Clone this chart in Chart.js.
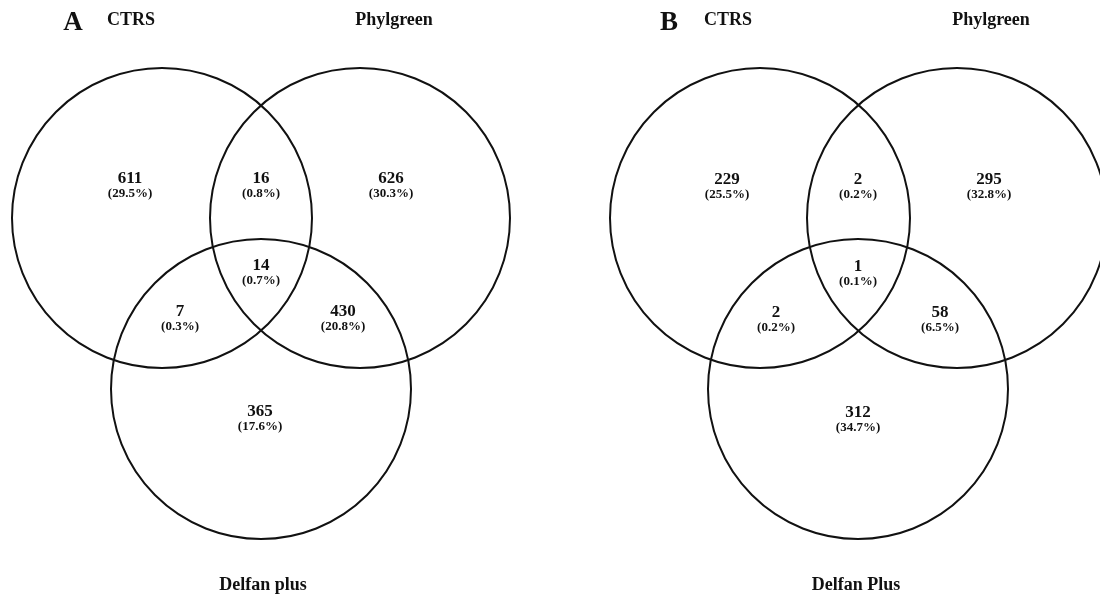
<!DOCTYPE html>
<html>
<head>
<meta charset="utf-8">
<script src="https://cdn.jsdelivr.net/npm/chart.js@4/dist/chart.umd.min.js"></script>
<style>
  body { margin: 0; background: #fff; }
  #wrap { width: 1100px; height: 597px; position: relative; }
</style>
</head>
<body>
<div id="wrap"><canvas id="venn"></canvas></div>
<script>
// Venn data: regions = [only 1, only 2, only 3, 1&2, 1&3, 2&3, all]
const panelLetters = ['A', 'B'];
const setNamesA = ['CTRS', 'Phylgreen', 'Delfan plus'];
const setNamesB = ['CTRS', 'Phylgreen', 'Delfan Plus'];
const countsA = [611, 626, 365, 16, 7, 430, 14];
const percentsA = ['29.5%', '30.3%', '17.6%', '0.8%', '0.3%', '20.8%', '0.7%'];
const countsB = [229, 295, 312, 2, 2, 58, 1];
const percentsB = ['25.5%', '32.8%', '34.7%', '0.2%', '0.2%', '6.5%', '0.1%'];

// layout (in chart units, 1 unit = 1px)
const circlesA = [{ x: 162, y: 218 }, { x: 360, y: 218 }, { x: 261, y: 389 }];
const circlesB = [{ x: 760, y: 218 }, { x: 957, y: 218 }, { x: 858, y: 389 }];
const circleR = 150;
const regionPosA = [[130, 179], [391, 179], [260, 412], [261, 179], [180, 312], [343, 312], [261, 266]];
const regionPosB = [[727, 180], [989, 180], [858, 413], [858, 180], [776, 313], [940, 313], [858, 267]];
const namePosA = [[131, 20], [394, 20], [263, 585]];
const namePosB = [[728, 20], [991, 20], [856, 585]];
const letterPos = [[73, 23], [669, 23]];

const serif = '"Liberation Serif", "Times New Roman", serif';

const radiusPx = (ctx) => {
    const s = ctx.chart.scales.x;
    return s.getPixelForValue(circleR) - s.getPixelForValue(0);
};

const vennText = {
    id: 'vennText',
    afterDatasetsDraw(chart) {
        const { ctx, scales: { x, y } } = chart;
        ctx.save();
        ctx.fillStyle = '#111';
        ctx.textAlign = 'center';
        ctx.textBaseline = 'middle';

        const panels = [
            { counts: countsA, pct: percentsA, pos: regionPosA, names: setNamesA, namePos: namePosA },
            { counts: countsB, pct: percentsB, pos: regionPosB, names: setNamesB, namePos: namePosB }
        ];
        panels.forEach((p, i) => {
            p.counts.forEach((c, j) => {
                const px = x.getPixelForValue(p.pos[j][0]);
                const py = y.getPixelForValue(p.pos[j][1]);
                ctx.font = 'bold 17px ' + serif;
                ctx.fillText(String(c), px, py);
                ctx.font = 'bold 13px ' + serif;
                ctx.fillText('(' + p.pct[j] + ')', px, py + 15);
            });
            ctx.font = 'bold 18px ' + serif;
            p.names.forEach((n, j) => {
                ctx.fillText(n, x.getPixelForValue(p.namePos[j][0]), y.getPixelForValue(p.namePos[j][1]));
            });
            ctx.font = 'bold 27px ' + serif;
            ctx.fillText(panelLetters[i], x.getPixelForValue(letterPos[i][0]), y.getPixelForValue(letterPos[i][1]));
        });
        ctx.restore();
    }
};

new Chart(document.getElementById('venn'), {
    type: 'scatter',
    data: {
        datasets: [
            { label: 'A', data: circlesA },
            { label: 'B', data: circlesB }
        ]
    },
    options: {
        responsive: true,
        maintainAspectRatio: false,
        animation: false,
        events: [],
        layout: { padding: 0 },
        elements: {
            point: {
                radius: radiusPx,
                backgroundColor: 'rgba(0,0,0,0)',
                borderColor: '#111',
                borderWidth: 2
            }
        },
        clip: false,
        plugins: {
            legend: { display: false },
            tooltip: { enabled: false }
        },
        scales: {
            x: { type: 'linear', min: 0, max: 1100, display: false },
            y: { type: 'linear', min: 0, max: 597, reverse: true, display: false }
        }
    },
    plugins: [vennText]
});
</script>
</body>
</html>
